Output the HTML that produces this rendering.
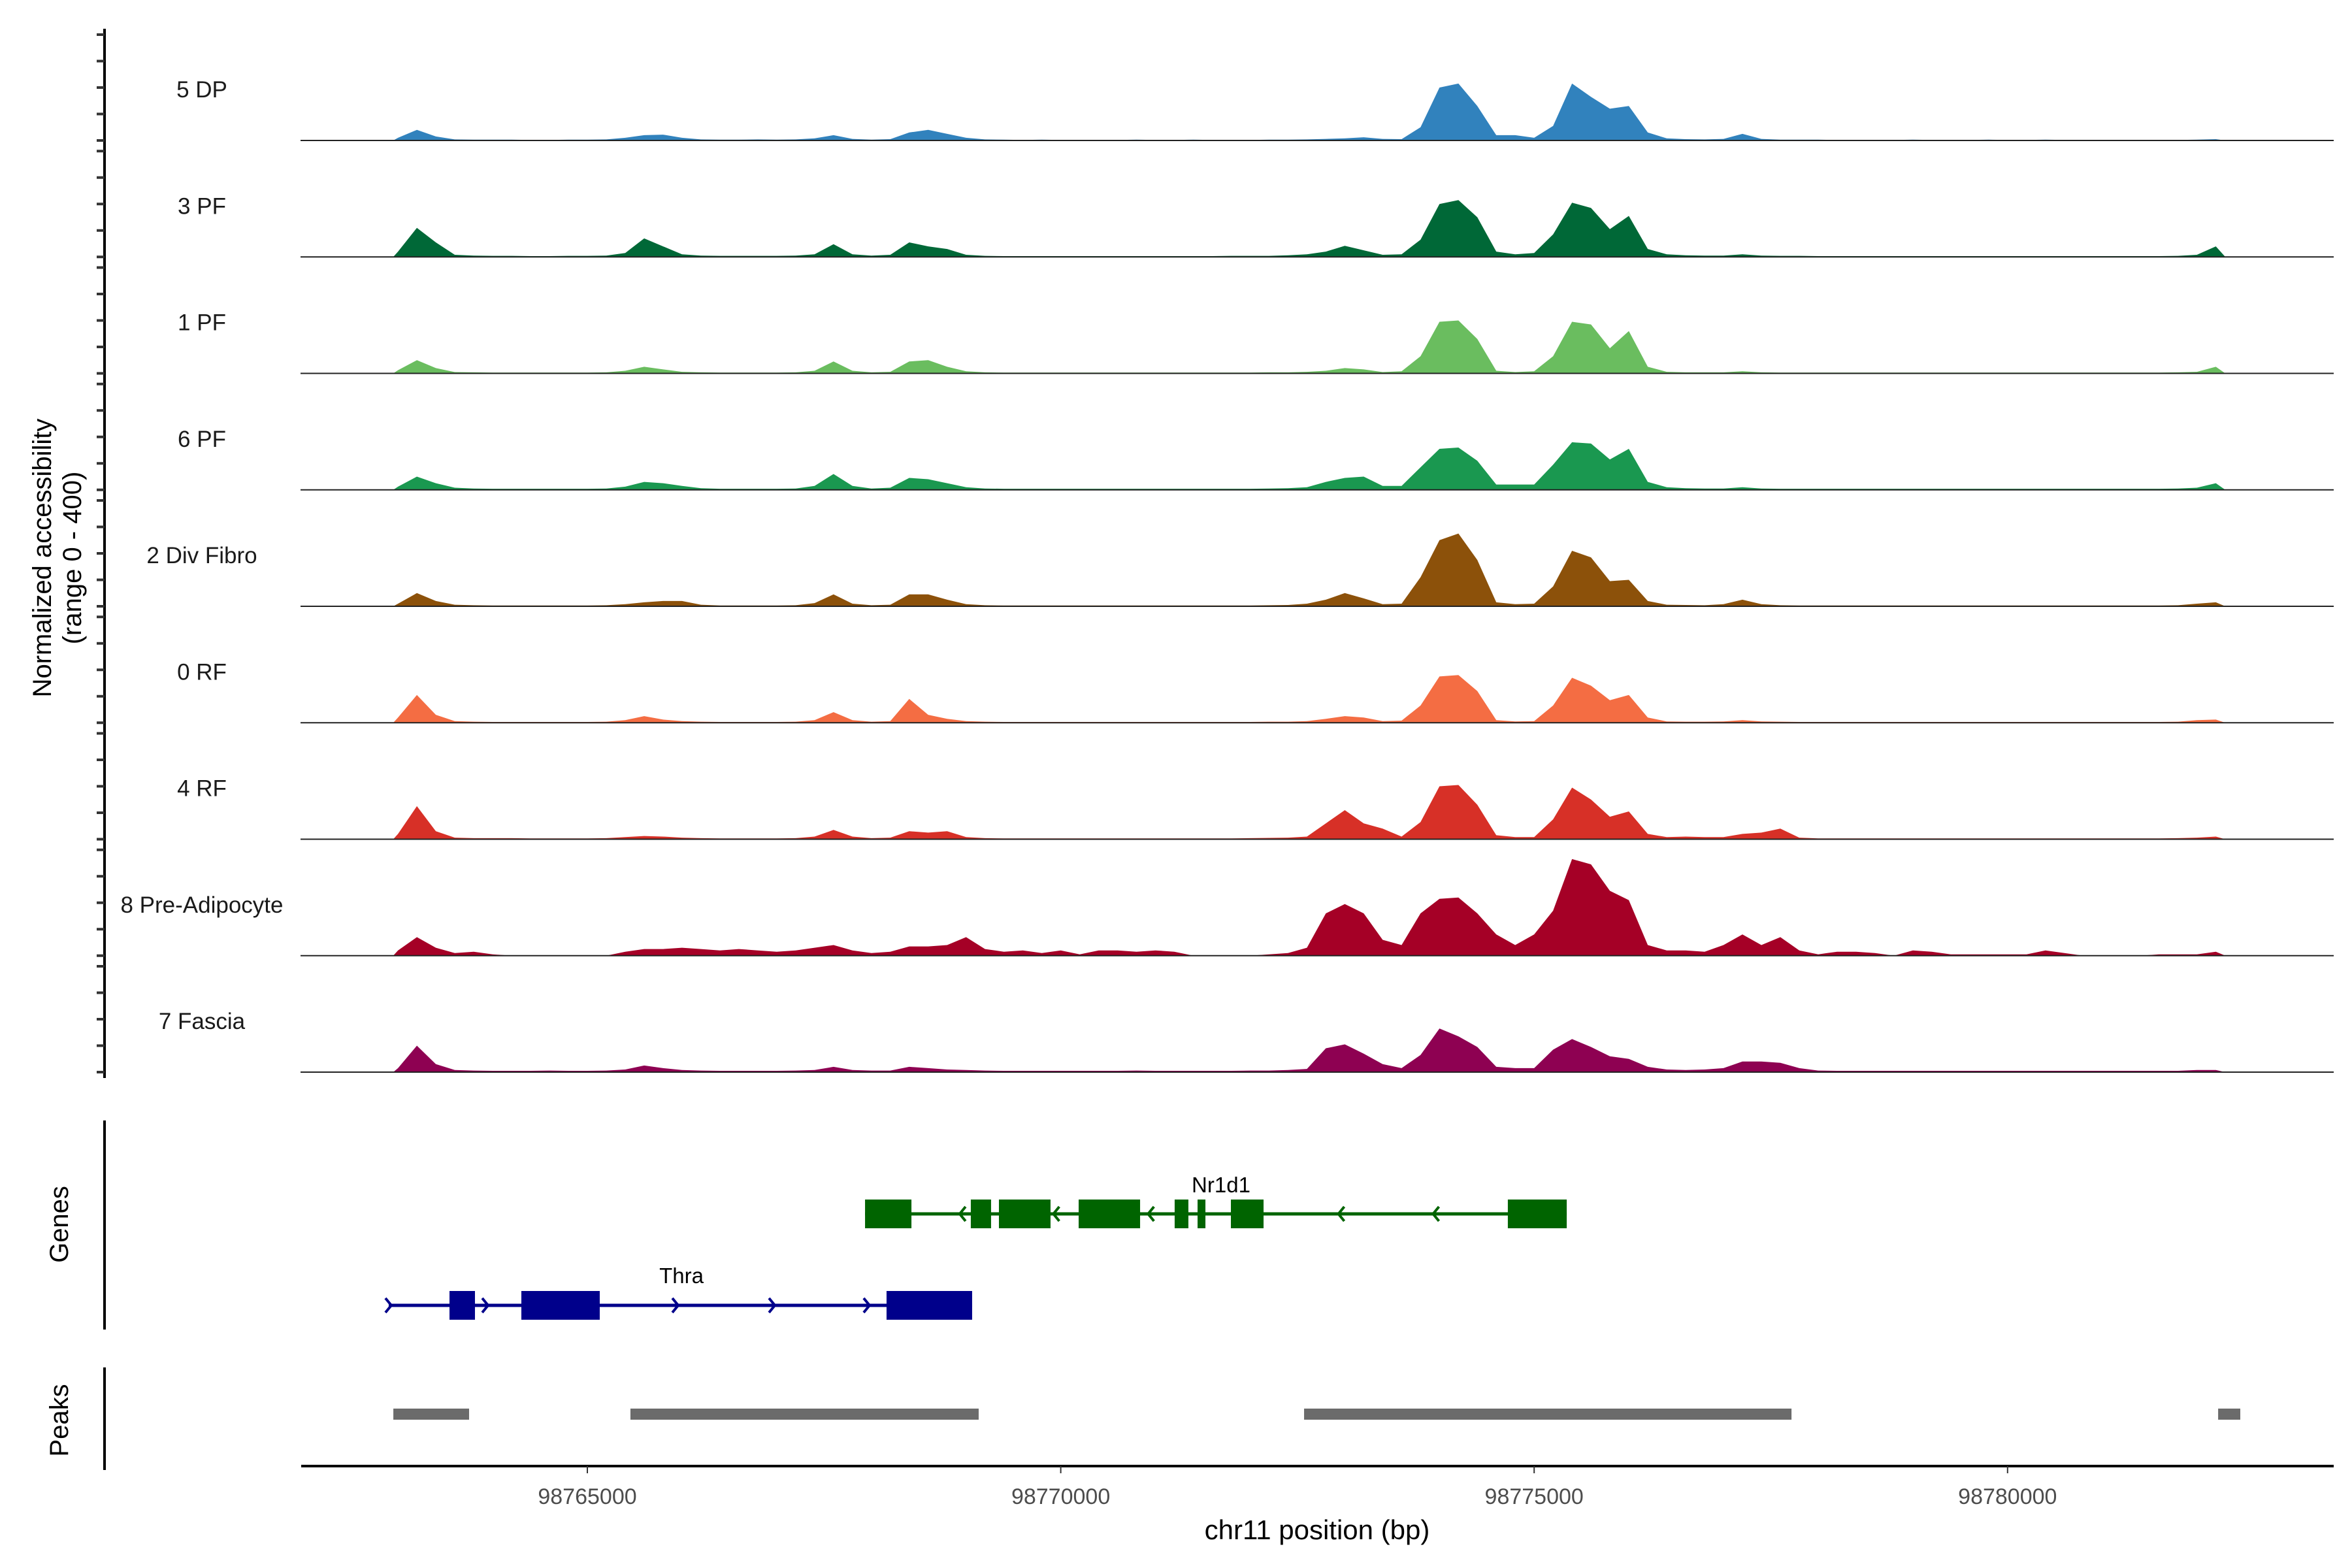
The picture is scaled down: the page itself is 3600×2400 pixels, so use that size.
<!DOCTYPE html>
<html><head><meta charset="utf-8"><style>html,body{margin:0;padding:0;background:#fff}svg{display:block}</style></head>
<body>
<svg id="chart" xmlns="http://www.w3.org/2000/svg" width="3600" height="2400" viewBox="0 0 3600 2400" font-family="Liberation Sans, sans-serif">
<rect width="3600" height="2400" fill="#fff"/>
<g id="tracks"></g>
<g id="genes"></g>
<g id="peaks"></g>
<g id="axes"></g>
</svg>
<script>
const trackNames = ["5 DP","3 PF","1 PF","6 PF","2 Div Fibro","0 RF","4 RF","8 Pre-Adipocyte","7 Fascia"];
const trackColors = ["#3182bd","#006837","#6abd5f","#1a9850","#8c510a","#f46d43","#d73027","#a50026","#8e0152"];
const binStart = 98762900;
const binSize = 200;
const dp = [10,40,15,4,3,3,3,2,2,3, 3,4,10,20,22,10,4,3,3,4, 3,4,8,20,6,3,5,30,40,25, 10,4,3,2,3,2,2,2,2,3, 2,2,3,2,2,2,3,3,4,6, 8,12,6,5,50,200,215,130,20,20, 10,55,215,165,120,130,30,8,5,4, 6,25,6,3,3,3,2,2,2,2, 3,2,2,2,3,2,2,3,2,2, 2,2,2,2,2,3,5];
const pf3 = [20,110,55,8,5,4,4,3,3,4, 4,5,15,70,40,10,5,4,4,4, 4,5,10,48,10,5,8,55,40,30, 8,4,3,3,3,3,3,3,3,3, 3,3,3,3,4,4,4,6,10,20, 42,25,8,10,65,200,215,150,20,10, 15,85,205,185,105,155,30,10,6,5, 5,10,5,4,4,3,3,3,3,3, 3,3,3,3,3,3,3,3,3,3, 3,3,3,3,4,8,40];
const pf1 = [12,50,20,5,4,3,3,3,3,3, 3,4,10,25,15,6,4,3,3,3, 3,4,10,45,10,4,6,45,50,25, 8,4,3,3,3,3,3,3,3,3, 3,3,3,3,3,3,4,4,6,10, 20,15,5,8,65,195,200,130,10,5, 8,65,195,185,95,160,25,6,4,4, 4,8,4,3,3,3,3,3,3,3, 3,3,3,3,3,3,3,3,3,3, 3,3,3,3,4,6,25];
const pf6 = [12,50,25,8,5,4,4,4,4,4, 4,5,12,30,25,15,6,4,4,4, 4,5,15,60,15,5,8,45,40,25, 10,5,4,4,4,4,4,4,4,4, 4,4,4,4,4,4,5,6,10,30, 45,50,15,15,85,155,160,110,20,20, 20,95,180,175,115,155,30,10,6,5, 5,10,5,4,4,4,4,4,4,4, 4,4,4,4,4,4,4,4,4,4, 4,4,4,4,5,8,25];
const divFibro = [10,50,20,6,4,3,3,3,3,3, 3,4,8,15,20,20,6,3,3,3, 3,4,12,45,10,4,6,45,45,25, 8,4,3,3,3,3,3,3,3,3, 3,3,3,3,3,3,4,5,10,25, 50,30,8,10,110,250,275,175,15,8, 10,75,210,185,95,100,20,6,5,4, 8,25,8,4,3,3,3,3,3,3, 3,3,3,3,3,3,3,3,3,3, 3,3,3,3,4,10,15];
const rf0 = [20,105,30,6,4,3,3,3,3,3, 3,4,10,25,12,6,4,3,3,3, 3,4,10,40,10,4,6,90,30,15, 6,4,3,3,3,3,3,3,3,3, 3,3,3,3,3,3,4,4,6,15, 25,20,6,8,65,175,180,120,10,5, 6,65,170,140,85,105,20,5,4,4, 5,10,5,4,3,3,3,3,3,3, 3,3,3,3,3,3,3,3,3,3, 3,3,3,3,4,10,12];
const rf4 = [20,125,30,6,4,4,4,3,3,3, 3,4,8,12,10,6,4,3,3,3, 3,4,10,35,10,4,6,30,25,30, 8,4,3,3,3,3,3,3,3,3, 3,3,3,3,3,4,5,6,10,60, 110,60,40,10,65,200,205,130,15,8, 8,75,195,150,85,105,20,8,10,8, 8,20,25,40,6,3,3,3,3,3, 3,3,3,3,3,3,3,3,3,3, 3,3,3,3,4,6,10];
const preAdipo = [20,70,30,10,15,5,0,0,0,0, 0,0,15,25,25,30,25,20,25,20, 15,20,30,40,20,10,15,35,35,40, 70,25,15,20,10,20,5,20,20,15, 20,15,0,0,0,0,5,10,30,160, 195,160,60,40,160,215,220,160,80,40, 80,170,365,345,245,210,40,20,20,15, 40,80,40,70,20,5,15,15,10,0, 20,15,5,5,5,5,5,20,10,0, 0,0,0,5,5,5,15];
const fascia = [15,100,30,8,6,5,5,5,6,5, 5,6,10,25,15,8,6,5,5,5, 5,6,8,20,8,6,6,20,15,10, 8,6,5,5,5,5,5,5,5,6, 5,5,5,5,5,6,6,8,12,90, 105,70,30,15,65,165,135,95,20,15, 15,85,125,95,60,50,20,10,8,10, 15,40,40,35,15,6,5,5,5,5, 5,5,5,5,5,5,5,5,5,5, 5,5,5,5,5,8,8];
const trackValues = [dp,pf3,pf1,pf6,divFibro,rf0,rf4,preAdipo,fascia];
const yTicks = [0,100,200,300,400];
const xTicks = [98765000,98770000,98775000,98780000];
const nr1d1Exons = [[98767933,98768423],[98769050,98769264],[98769347,98769892],[98770189,98770838],[98771203,98771348],[98771445,98771528],[98771797,98772142],[98774722,98775344]];
const nr1d1Span = [98767933,98775344];
const nr1d1Chevrons = [98768960,98769950,98770950,98772960,98773960];
const thraExons = [[98763544,98763813],[98764303,98765131],[98768160,98769064]];
const thraSpan = [98762902,98769064];
const thraChevrons = [98762902,98763924,98765932,98766953,98767953];
const peakRanges = [[98762951,98763751],[98765455,98769133],[98772570,98777718],[98782224,98782458]];

const NS="http://www.w3.org/2000/svg";
function xs(bp){return 899+(bp-98765000)*0.14492;}
const trackTop0=53, trackH=162, trackGap=178.25, yMax=400;
function mk(tag,attrs,parent,text){const e=document.createElementNS(NS,tag);for(const k in attrs)e.setAttribute(k,attrs[k]);if(text!==undefined)e.textContent=text;parent.appendChild(e);return e;}
const gT=document.getElementById('tracks');
trackValues.forEach((vals,t)=>{
  const top=trackTop0+t*trackGap, base=top+trackH;
  const g=mk('g',{},gT);
  
  
  let d='M'+xs(binStart+50).toFixed(1)+','+base;
  vals.forEach((v,i)=>{const x=xs(binStart+i*binSize+binSize/2);const y=base-v/yMax*trackH;d+=' L'+x.toFixed(1)+','+y.toFixed(1);});
  d+=' L'+xs(binStart+vals.length*binSize).toFixed(1)+','+base+' Z';
  const a=mk('path',{d:d,fill:trackColors[t]},g);
  
  
  const bl=mk('line',{x1:460,x2:3572,y1:base,y2:base,stroke:'#222','stroke-width':2},g);
  
  
  const lb=mk('text',{x:309,y:top+96,'font-size':35,'text-anchor':'middle',fill:'#1a1a1a'},g,trackNames[t]);
  
  
});
const gA=document.getElementById('axes');
let yl=mk('line',{x1:160,x2:160,y1:44,y2:1650,stroke:'#000','stroke-width':4},gA);


trackValues.forEach((v,t)=>{const base=trackTop0+t*trackGap+trackH;yTicks.forEach(tv=>{const y=base-tv/yMax*trackH;const tk=mk('line',{x1:148,x2:160,y1:y,y2:y,stroke:'#333','stroke-width':4},gA);

});});
let yt=mk('text',{transform:'translate(78,854) rotate(-90)','font-size':40,'text-anchor':'middle',fill:'#000'},gA,'Normalized accessibility');


let yt2=mk('text',{transform:'translate(124,854) rotate(-90)','font-size':40,'text-anchor':'middle',fill:'#000'},gA,'(range 0 - 400)');


const gG=document.getElementById('genes');
let ga=mk('line',{x1:160,x2:160,y1:1715,y2:2035,stroke:'#000','stroke-width':4},gG);


let gl=mk('text',{transform:'translate(104,1874) rotate(-90)','font-size':40,'text-anchor':'middle'},gG,'Genes');


function drawGene(name,span,exons,chev,y,color,dir,labelX,labelY){
  const g=mk('g',{},gG);
  
  
  mk('line',{x1:xs(span[0]),x2:xs(span[1]),y1:y,y2:y,stroke:color,'stroke-width':5},g);
  chev.forEach(c=>{const x=xs(c);mk('path',{d:dir<0?`M${x+5},${y-11} L${x-4},${y} L${x+5},${y+11}`:`M${x-5},${y-11} L${x+4},${y} L${x-5},${y+11}`,stroke:color,'stroke-width':4,fill:'none'},g);});
  exons.forEach(e=>{const r=mk('rect',{x:xs(e[0]),y:y-22,width:xs(e[1])-xs(e[0]),height:44,fill:color},g);
  
  });
  const t=mk('text',{x:labelX,y:labelY,'font-size':33,'text-anchor':'middle',fill:'#000'},g,name);
  
  
}
drawGene('Nr1d1',nr1d1Span,nr1d1Exons,nr1d1Chevrons,1858,'#006400',-1,1869,1825);
drawGene('Thra',thraSpan,thraExons,thraChevrons,1998,'#00008b',1,1043,1964);
const gP=document.getElementById('peaks');
let pa=mk('line',{x1:160,x2:160,y1:2093,y2:2250,stroke:'#000','stroke-width':4},gP);


let pl=mk('text',{transform:'translate(104,2174) rotate(-90)','font-size':40,'text-anchor':'middle'},gP,'Peaks');


peakRanges.forEach(p=>{const r=mk('rect',{x:xs(p[0]),y:2156,width:xs(p[1])-xs(p[0]),height:17,fill:'#6b6b6b'},gP);

});
let xl=mk('line',{x1:461,x2:3572,y1:2244,y2:2244,stroke:'#000','stroke-width':4},gA);


xTicks.forEach(v=>{const x=xs(v);const tk=mk('line',{x1:x,x2:x,y1:2244,y2:2255,stroke:'#333','stroke-width':2},gA);


const tl=mk('text',{x:x,y:2302,'font-size':34,'text-anchor':'middle',fill:'#4d4d4d'},gA,String(v));

});
let xt=mk('text',{x:2016,y:2356,'font-size':42,'text-anchor':'middle',fill:'#000'},gA,'chr11 position (bp)');


</script>
</body></html>
